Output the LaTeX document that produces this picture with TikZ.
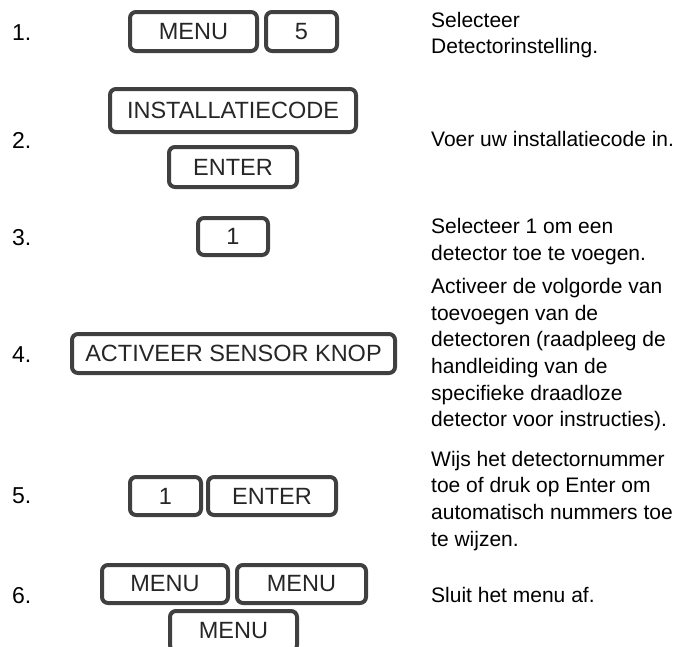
\documentclass[tikz,border=0pt]{standalone}
\usepackage{fontspec}
\setmainfont{Liberation Sans}
\definecolor{keyline}{HTML}{404040}
\definecolor{keytext}{HTML}{262626}
\begin{document}
\begin{tikzpicture}[x=1pt,y=-1pt,
  keybox/.style={draw=keyline, line width=4pt, rounded corners=6pt, fill=white,
    text=keytext, font=\fontsize{23.5}{28}\selectfont, inner sep=0pt},
  stepnum/.style={anchor=base west, inner sep=0pt, font=\fontsize{23}{28}\selectfont},
  desc/.style={anchor=base west, inner sep=0pt, font=\fontsize{21}{26}\selectfont}]
\useasboundingbox (0,0) rectangle (694,646);
\clip (0,0) rectangle (694,646);

% step numbers
\node[stepnum] (n1) at (12,40) {1.};
\node[stepnum] (n2) at (12,148) {2.};
\node[stepnum] (n3) at (12,245) {3.};
\node[stepnum] (n4) at (12,362) {4.};
\node[stepnum] (n5) at (12,503) {5.};
\node[stepnum] (n6) at (12,603) {6.};

% keys
\node[keybox, minimum width=127pt, minimum height=39pt] (k1a) at (193.5,31.5) {MENU};
\node[keybox, minimum width=71pt, minimum height=39pt] (k1b) at (301.5,31.5) {5};

\node[keybox, minimum width=246pt, minimum height=43pt] (k2a) at (233,110.5) {INSTALLATIECODE};
\node[keybox, minimum width=128pt, minimum height=40pt] (k2b) at (233,167) {ENTER};

\node[keybox, minimum width=70pt, minimum height=37pt] (k3) at (233,236.5) {1};

\node[keybox, minimum width=323pt, minimum height=39pt] (k4) at (233.5,353.5) {ACTIVEER SENSOR KNOP};

\node[keybox, minimum width=71pt, minimum height=38pt] (k5a) at (165.5,496) {1};
\node[keybox, minimum width=128pt, minimum height=38pt] (k5b) at (272,496) {ENTER};

\node[keybox, minimum width=126pt, minimum height=38pt] (k6a) at (165,584) {MENU};
\node[keybox, minimum width=129pt, minimum height=38pt] (k6b) at (301.5,584) {MENU};
\node[keybox, minimum width=127pt, minimum height=40pt] (k6c) at (233.5,631) {MENU};

% descriptions
\node[desc] (d1a) at (431,27) {Selecteer};
\node[desc] (d1b) at (431,53.5) {Detectorinstelling.};

\node[desc] (d2) at (431,146.7) {Voer uw installatiecode in.};

\node[desc] (d3a) at (431,233.3) {Selecteer 1 om een};
\node[desc] (d3b) at (431,260) {detector toe te voegen.};

\node[desc] (d4a) at (431,293.3) {Activeer de volgorde van};
\node[desc] (d4b) at (431,320) {toevoegen van de};
\node[desc] (d4c) at (431,346.7) {detectoren (raadpleeg de};
\node[desc] (d4d) at (431,373.3) {handleiding van de};
\node[desc] (d4e) at (431,400) {specifieke draadloze};
\node[desc] (d4f) at (431,426.7) {detector voor instructies).};

\node[desc] (d5a) at (431,466) {Wijs het detectornummer};
\node[desc] (d5b) at (431,492.7) {toe of druk op Enter om};
\node[desc] (d5c) at (431,519.3) {automatisch nummers toe};
\node[desc] (d5d) at (431,546) {te wijzen.};

\node[desc] (d6) at (431,602) {Sluit het menu af.};
\end{tikzpicture}
\end{document}
